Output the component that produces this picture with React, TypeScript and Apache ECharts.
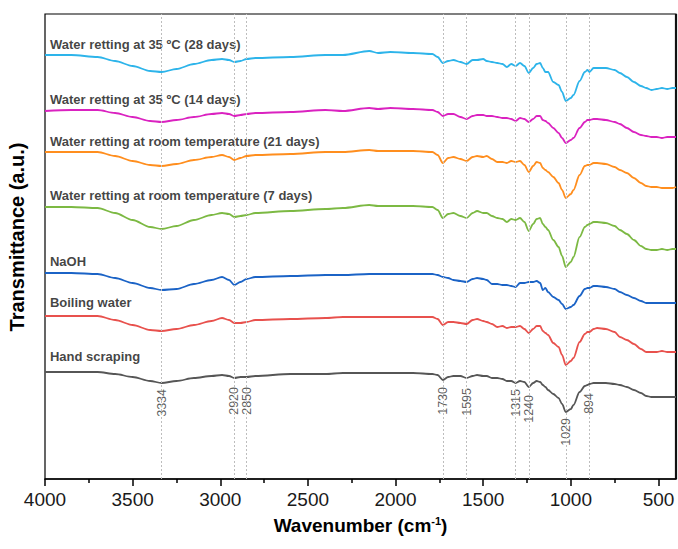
import React, { useEffect, useRef } from "react";
import * as echarts from "echarts";

// Shared wavenumber grid (cm-1)
const wavenumbers = [4000,3850,3700,3600,3500,3400,3334,3250,3150,3050,2990,2950,2920,2885,2850,2800,2600,2400,2300,2150,2100,2030,1900,1790,1760,1730,1700,1670,1630,1595,1560,1535,1500,1480,1450,1420,1390,1365,1340,1315,1290,1265,1240,1215,1195,1175,1160,1145,1130,1100,1070,1050,1029,1000,985,950,920,905,894,870,850,800,750,720,680,640,600,570,540,510,480,450,420,400];

// Transmittance (a.u., offset stacked) per sample
const water35_28 = [424,424,422,418,413,408,407,410,415,419,420,419,417,418,420,421,422,424,424,428,426,427,426,425,422,416,418,419,417,415,419,419,420,418,417,416,415,412,415,413,416,413,406,411,415,416,411,407,407,397,394,387,378,381,384,398,407,409,407,411,411,411,409,406,402,397,393,391,389,390,391,390,391,391];
const water35_14 = [368,369,369,366,362,358,357,359,362,365,366,365,363,364,365,366,367,369,368,371,370,371,370,369,367,363,365,365,362,360,363,364,364,363,363,362,361,361,360,358,361,360,357,360,363,363,359,358,356,351,346,341,336,339,341,351,357,359,359,360,360,359,357,355,351,347,344,343,342,342,341,342,342,342];
const waterRoom_21 = [327,327,327,323,318,314,313,315,319,322,324,322,319,321,323,324,325,327,327,329,328,328,328,327,324,316,321,322,320,318,322,323,322,323,320,317,317,316,318,317,318,314,307,313,317,316,311,309,307,302,296,289,281,285,289,304,313,314,314,316,316,315,312,309,306,301,296,293,292,292,291,291,291,292];
const waterRoom_7 = [272,272,271,266,259,252,250,253,259,264,266,265,262,263,264,266,268,270,271,274,273,273,273,272,269,261,265,266,263,261,266,268,266,266,263,261,260,257,260,259,261,257,248,255,260,261,255,252,249,239,232,223,212,217,222,242,252,254,255,257,257,256,253,249,245,239,233,230,229,229,230,229,230,230];
const naoh = [206,206,205,201,196,191,189,190,195,199,202,199,194,197,200,202,203,204,204,205,205,205,205,205,204,202,201,199,198,197,200,201,200,199,195,195,194,194,193,192,196,196,197,197,198,196,189,191,187,182,179,175,170,172,174,183,190,191,191,193,193,192,190,187,184,181,178,176,176,176,176,176,176,176];
const boiling = [163,163,163,159,154,149,148,150,154,158,161,159,156,156,157,159,160,161,162,162,162,162,162,162,160,154,157,157,156,155,159,160,158,157,155,152,153,151,152,152,153,150,146,150,153,153,148,146,144,136,132,124,114,118,121,137,145,147,147,150,151,150,147,142,139,135,130,127,127,127,128,127,127,127];
const handScraping = [107,107,107,105,102,98,96,98,101,103,104,103,101,102,102,103,105,105,106,106,106,106,106,105,104,99,102,103,103,101,103,104,103,103,101,101,100,98,98,96,98,97,92,96,98,97,94,92,89,85,81,75,67,70,74,87,93,94,95,96,96,96,95,94,92,89,86,83,82,82,82,82,82,82];

const seriesNames = [
  "Water retting at 35 ºC (28 days)",
  "Water retting at 35 ºC (14 days)",
  "Water retting at room temperature (21 days)",
  "Water retting at room temperature (7 days)",
  "NaOH",
  "Boiling water",
  "Hand scraping",
];
const seriesValues = [water35_28, water35_14, waterRoom_21, waterRoom_7, naoh, boiling, handScraping];
const seriesColors = ["#2DB4EA", "#DA22C0", "#FF8E1E", "#7CB943", "#1B63C6", "#E8514D", "#565656"];
// label baseline positions (a.u.) above each curve
const seriesLabelLevel = [435, 380, 338, 284, 218, 177, 123];

// Marked bands
const peaks = [3334, 2920, 2850, 1730, 1595, 1315, 1240, 1029, 894];
const peakLabelTop = [90, 92, 92, 92, 91, 90, 84, 61, 86];

const majorTicks = [4000, 3500, 3000, 2500, 2000, 1500, 1000, 500];
const minorTicks = [3750, 3250, 2750, 2250, 1750, 1250, 750];

const FONT = "Arial, 'Liberation Sans', Helvetica, sans-serif";

export default function App() {
  const ref = useRef<HTMLDivElement>(null);
  useEffect(() => {
    if (!ref.current) return;
    const chart = echarts.init(ref.current, undefined, { renderer: "svg" });
    const lineSeries = seriesNames.map((name, i) => ({
      name,
      type: "line",
      data: wavenumbers.map((w, j) => [w, seriesValues[i][j]]),
      showSymbol: false,
      smooth: 0.3,
      smoothMonotone: "x",
      lineStyle: { color: seriesColors[i], width: 1.8 },
      itemStyle: { color: seriesColors[i] },
      z: 3,
    }));
    const option: any = {
      animation: false,
      grid: { left: 45, right: 2, top: 14, bottom: 70, show: true, borderColor: "#000", borderWidth: 1.2 },
      xAxis: [
        {
          type: "value",
          inverse: true,
          min: 400,
          max: 4000,
          axisLine: { show: true, lineStyle: { color: "#000", width: 1.5 } },
          axisTick: { show: true, customValues: majorTicks, length: 7, lineStyle: { color: "#000", width: 1.5 } },
          axisLabel: {
            show: true,
            customValues: majorTicks,
            fontSize: 19,
            color: "#1a1a1a",
            fontFamily: FONT,
            margin: 11,
            showMaxLabel: true,
            showMinLabel: true,
            formatter: (v: number) => String(v),
          },
          splitLine: { show: false },
          name: "{a|Wavenumber (cm}{s|-1}{a|)}",
          nameLocation: "middle",
          nameGap: 36,
          nameTextStyle: {
            rich: {
              a: { fontSize: 19, fontWeight: "bold", fontFamily: FONT, color: "#000" },
              s: { fontSize: 11, fontWeight: "bold", fontFamily: FONT, color: "#000", verticalAlign: "top", padding: [0, 0, 10, 0] },
            },
          },
        },
        {
          type: "value",
          inverse: true,
          min: 400,
          max: 4000,
          position: "bottom",
          axisLine: { show: false },
          axisTick: { show: true, customValues: minorTicks, length: 4, lineStyle: { color: "#000", width: 1.5 } },
          axisLabel: { show: false },
          splitLine: { show: false },
        },
      ],
      yAxis: {
        type: "value",
        min: 0,
        max: 465,
        axisLine: { show: false },
        axisTick: { show: false },
        axisLabel: { show: false },
        splitLine: { show: false },
      },
      series: [
        ...lineSeries,
        {
          name: "peaks",
          type: "scatter",
          symbolSize: 0,
          data: peaks.map((w, i) => [w, peakLabelTop[i]]),
          label: {
            show: true,
            position: "inside",
            rotate: 90,
            align: "right",
            verticalAlign: "middle",
            fontSize: 12.5,
            fontFamily: FONT,
            color: "#333",
            formatter: (p: any) => String(p.value[0]),
          },
          markLine: {
            silent: true,
            symbol: "none",
            label: { show: false },
            lineStyle: { color: "#bdbdbd", type: [2, 2], width: 1 },
            data: peaks.map((w) => ({ xAxis: w })),
          },
          z: 2,
        },
        {
          name: "seriesLabels",
          type: "scatter",
          symbolSize: 0,
          data: seriesNames.map((n, i) => [3972, seriesLabelLevel[i], n]),
          label: {
            show: true,
            position: "inside",
            align: "left",
            verticalAlign: "middle",
            fontSize: 13,
            fontWeight: "bold",
            fontFamily: FONT,
            color: "#111",
            formatter: (p: any) => p.value[2],
          },
          z: 4,
        },
      ],
      graphic: [
        {
          type: "text",
          x: 17,
          y: 237,
          rotation: Math.PI / 2,
          style: {
            text: "Transmittance (a.u.)",
            font: "bold 20px " + FONT,
            fill: "#000",
            align: "center",
            verticalAlign: "middle",
          },
        },
        {
          type: "line",
          shape: { x1: 676, y1: 14, x2: 676, y2: 479 },
          style: { stroke: "#111", lineWidth: 2.2 },
        },
      ],
    };
    chart.setOption(option);
    return () => chart.dispose();
  }, []);
  return (
    <div
      ref={ref}
      style={{ position: "absolute", left: 0, top: 0, width: 678, height: 549, background: "#fff" }}
    />
  );
}
